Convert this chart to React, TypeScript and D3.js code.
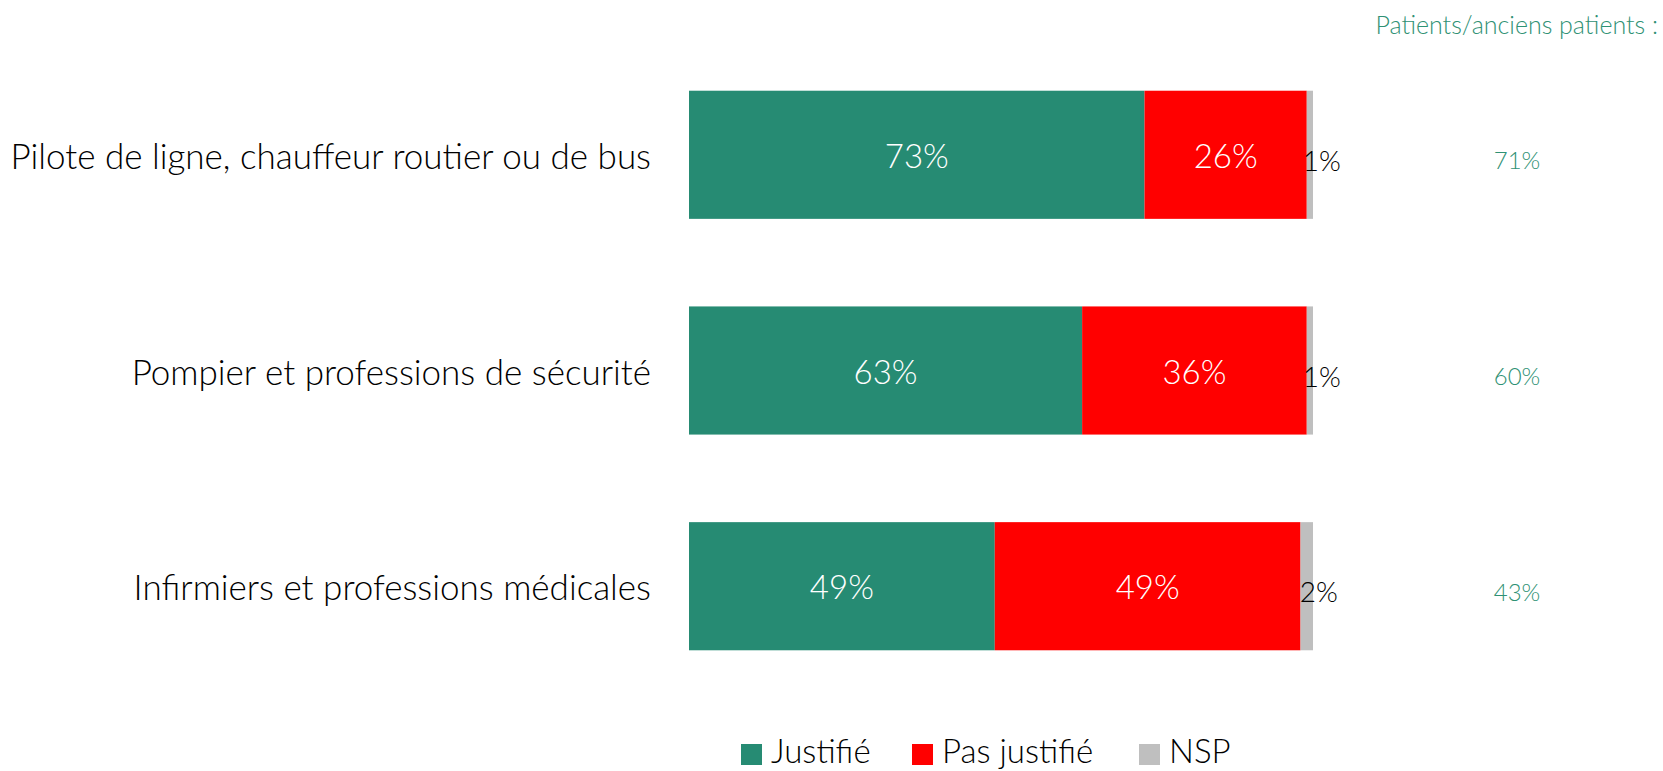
import React, { useEffect, useRef } from 'react';
import * as d3 from 'd3';

// categories and values
const categories = [
  'Pilote de ligne, chauffeur routier ou de bus',
  'Pompier et professions de sécurité',
  'Infirmiers et professions médicales',
];
const justifie = [73, 63, 49];
const pasJustifie = [26, 36, 49];
const nsp = [1, 1, 2];
const patients = [71, 60, 43];

const seriesNames = ['Justifié', 'Pas justifié', 'NSP'];
const colors = ['#268B73', '#FF0000', '#BFBFBF'];

const width = 1663;
const height = 771;
const font = 'Lato, "Open Sans", sans-serif';

const App = () => {
  const svgRef = useRef<SVGSVGElement>(null);

  useEffect(() => {
    const svg = d3.select(svgRef.current);
    svg.selectAll('*').remove();

    const rows = categories.map((c, i) => ({
      cat: c,
      Justifié: justifie[i],
      'Pas justifié': pasJustifie[i],
      NSP: nsp[i],
    }));
    const stack = d3.stack<any>().keys(seriesNames)(rows);

    const x = d3.scaleLinear().domain([0, 100]).range([689, 1313]);
    const y = d3
      .scaleBand()
      .domain(categories)
      .range([26, 715])
      .paddingInner(0.406)
      .paddingOuter(0.3);

    const color = d3.scaleOrdinal<string>().domain(seriesNames).range(colors);

    // bars
    const layer = svg
      .selectAll('g.layer')
      .data(stack)
      .join('g')
      .attr('class', 'layer')
      .attr('fill', (d) => color(d.key));

    layer
      .selectAll('rect')
      .data((d) => d)
      .join('rect')
      .attr('x', (d) => x(d[0]))
      .attr('y', (d: any) => y(d.data.cat)!)
      .attr('width', (d) => x(d[1]) - x(d[0]))
      .attr('height', y.bandwidth());

    // value labels
    stack.forEach((s) => {
      const isNsp = s.key === 'NSP';
      svg
        .append('g')
        .selectAll('text')
        .data(s)
        .join('text')
        .attr('x', (d) => (x(d[0]) + x(d[1])) / 2 + (isNsp ? 12 : 0))
        .attr('y', (d: any) => y(d.data.cat)! + y.bandwidth() / 2 + (isNsp ? 5 : 0))
        .attr('text-anchor', 'middle')
        .attr('dominant-baseline', 'central')
        .attr('font-family', font)
        .attr('font-weight', 300)
        .attr('font-size', isNsp ? 28 : 33)
        .attr('fill', isNsp ? '#000' : '#fff')
        .text((d) => `${d[1] - d[0]}%`);
    });

    // category labels
    svg
      .append('g')
      .selectAll('text')
      .data(categories)
      .join('text')
      .attr('x', 651)
      .attr('y', (d) => y(d)! + y.bandwidth() / 2)
      .attr('text-anchor', 'end')
      .attr('dominant-baseline', 'central')
      .attr('font-family', font)
      .attr('font-weight', 300)
      .attr('font-size', 35)
      .attr('fill', '#000')
      .text((d) => d);

    // patients column
    svg
      .append('text')
      .attr('x', 1658)
      .attr('y', 24)
      .attr('text-anchor', 'end')
      .attr('dominant-baseline', 'central')
      .attr('font-family', font)
      .attr('font-weight', 300)
      .attr('font-size', 25)
      .attr('fill', '#2F9174')
      .text('Patients/anciens patients :');

    svg
      .append('g')
      .selectAll('text')
      .data(patients)
      .join('text')
      .attr('x', 1517)
      .attr('y', (d, i) => y(categories[i])! + y.bandwidth() / 2 + 5)
      .attr('text-anchor', 'middle')
      .attr('dominant-baseline', 'central')
      .attr('font-family', font)
      .attr('font-weight', 300)
      .attr('font-size', 24)
      .attr('fill', '#2F9174')
      .text((d) => `${d}%`);

    // legend
    const legendX = [741, 912, 1139];
    const legend = svg
      .append('g')
      .selectAll('g')
      .data(seriesNames)
      .join('g')
      .attr('transform', (d, i) => `translate(${legendX[i]},755)`);
    legend
      .append('rect')
      .attr('x', 0)
      .attr('y', -11)
      .attr('width', 21)
      .attr('height', 21)
      .attr('fill', (d) => color(d));
    legend
      .append('text')
      .attr('x', 30)
      .attr('y', 8)
      .attr('font-family', font)
      .attr('font-weight', 300)
      .attr('font-size', 33)
      .attr('fill', '#000')
      .text((d) => d);
  }, []);

  return (
    <svg
      ref={svgRef}
      width={width}
      height={height}
      style={{ position: 'absolute', left: 0, top: 0, background: '#fff' }}
    />
  );
};

export default App;
